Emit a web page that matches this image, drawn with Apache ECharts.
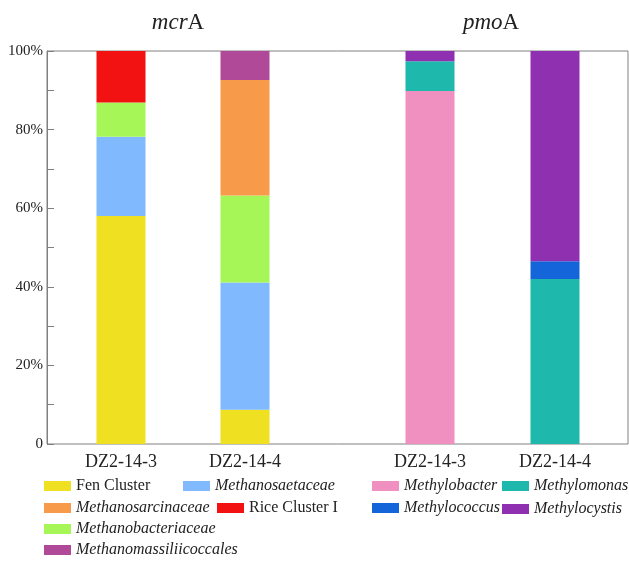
<!DOCTYPE html>
<html><head><meta charset="utf-8">
<script src="https://cdn.jsdelivr.net/npm/echarts@6/dist/echarts.min.js"></script>
<style>html,body{margin:0;padding:0;background:#fff}#c{width:629px;height:563px}</style>
</head><body><div id="c"></div>
<script>
// ---- data ----
const samples = ['DZ2-14-3', 'DZ2-14-4'];
const yTicks = [0, 20, 40, 60, 80, 100];
// mcrA (% of sequences)
const fenCluster = [58.0, 8.7];
const methanosaetaceae = [20.2, 32.4];
const methanobacteriaceae = [8.7, 22.1];
const methanosarcinaceae = [0, 29.4];
const riceClusterI = [13.1, 0];
const methanomassiliicoccales = [0, 7.4];
// pmoA (% of sequences)
const methylobacter = [89.8, 0];
const methylomonas = [7.6, 42.0];
const methylococcus = [0, 4.5];
const methylocystis = [2.6, 53.5];

const FONT = 'Liberation Serif, Times New Roman, serif';
const TXT = '#222';
const AX = '#808080';

const mcrSeries = [
  ['Fen Cluster', fenCluster, '#EFE021'],
  ['Methanosaetaceae', methanosaetaceae, '#80B9FD'],
  ['Methanobacteriaceae', methanobacteriaceae, '#A6F658'],
  ['Methanosarcinaceae', methanosarcinaceae, '#F79A4A'],
  ['Rice Cluster I', riceClusterI, '#F21212'],
  ['Methanomassiliicoccales', methanomassiliicoccales, '#B04A98']
];
const pmoSeries = [
  ['Methylobacter', methylobacter, '#F090C0'],
  ['Methylomonas', methylomonas, '#1FB8AD'],
  ['Methylococcus', methylococcus, '#1565DA'],
  ['Methylocystis', methylocystis, '#8E30B0']
];

const series = [];
mcrSeries.forEach(([n, d, c]) => series.push({
  name: n, type: 'bar', stack: 'mcr', xAxisIndex: 1, yAxisIndex: 1,
  barWidth: 49, data: d, itemStyle: { color: c }, emphasis: { disabled: true }
}));
pmoSeries.forEach(([n, d, c]) => series.push({
  name: n, type: 'bar', stack: 'pmo', xAxisIndex: 2, yAxisIndex: 2,
  barWidth: 49, data: d, itemStyle: { color: c }, emphasis: { disabled: true }
}));

// legend placement (swatch left x, row centre y)
const legendPos = [
  ['Fen Cluster', 44, 487], ['Methanosaetaceae', 183, 487],
  ['Methanosarcinaceae', 44, 509], ['Rice Cluster I', 217, 509],
  ['Methanobacteriaceae', 44, 530], ['Methanomassiliicoccales', 44, 551],
  ['Methylobacter', 372, 487], ['Methylomonas', 502, 487],
  ['Methylococcus', 372, 509], ['Methylocystis', 502, 510]
];
const upright = ['Fen Cluster', 'Rice Cluster I'];
const legends = legendPos.map(([n, x, y]) => ({
  data: [n], left: x, top: y - 9, padding: 0, itemWidth: 27, itemHeight: 10,
  icon: 'rect', selectedMode: false,
  textStyle: { fontFamily: FONT, fontSize: 16, color: TXT,
    fontStyle: upright.includes(n) ? 'normal' : 'italic' }
}));

const catAxisLabel = { fontFamily: FONT, fontSize: 18, color: TXT, margin: 9 };

const option = {
  animation: false,
  backgroundColor: '#fff',
  grid: [
    { left: 47, top: 51, width: 581, height: 393, show: true, borderColor: AX, borderWidth: 1, backgroundColor: 'transparent' },
    { left: 59, top: 51, width: 248, height: 393 },
    { left: 367.5, top: 51, width: 250, height: 393 }
  ],
  xAxis: [
    { gridIndex: 0, type: 'value', min: 0, max: 1, show: false },
    { gridIndex: 1, type: 'category', data: samples, axisLine: { show: false }, axisTick: { show: false }, axisLabel: catAxisLabel },
    { gridIndex: 2, type: 'category', data: samples, axisLine: { show: false }, axisTick: { show: false }, axisLabel: catAxisLabel }
  ],
  yAxis: [
    { gridIndex: 0, type: 'value', min: 0, max: 100, interval: 10,
      axisLine: { show: true, lineStyle: { color: AX } },
      axisTick: { show: true, inside: true, length: 7, lineStyle: { color: AX } },
      splitLine: { show: false },
      axisLabel: { margin: 4, fontFamily: FONT, fontSize: 15, color: TXT,
        formatter: v => yTicks.includes(v) ? (v === 0 ? '0' : v + '%') : '' } },
    { gridIndex: 1, type: 'value', min: 0, max: 100, show: false },
    { gridIndex: 2, type: 'value', min: 0, max: 100, show: false }
  ],
  legend: legends,
  graphic: [
    { type: 'text', x: 178, y: 23, style: { text: '{i|mcr}{n|A}', textAlign: 'center', textVerticalAlign: 'middle', align: 'center', verticalAlign: 'middle',
      rich: { i: { fontFamily: FONT, fontSize: 23, fontStyle: 'italic', fill: TXT }, n: { fontFamily: FONT, fontSize: 23, fill: TXT } } } },
    { type: 'text', x: 491, y: 23, style: { text: '{i|pmo}{n|A}', textAlign: 'center', textVerticalAlign: 'middle', align: 'center', verticalAlign: 'middle',
      rich: { i: { fontFamily: FONT, fontSize: 23, fontStyle: 'italic', fill: TXT }, n: { fontFamily: FONT, fontSize: 23, fill: TXT } } } }
  ],
  series: series
};
const chart = echarts.init(document.getElementById('c'), null, { renderer: 'canvas' });
chart.setOption(option);
</script></body></html>
